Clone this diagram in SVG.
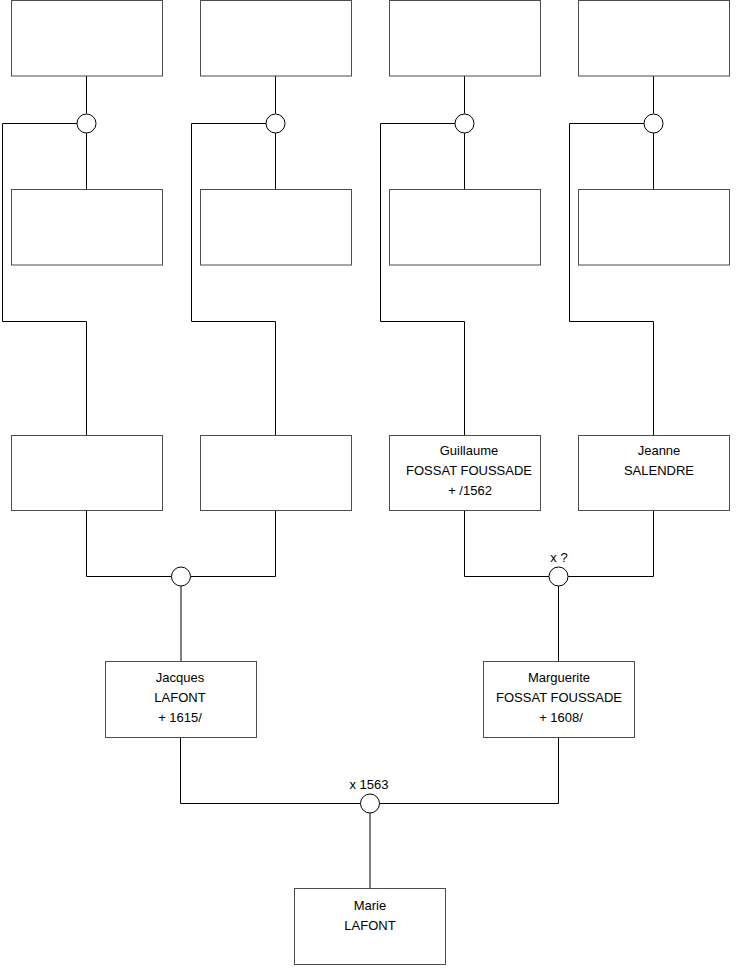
<svg xmlns="http://www.w3.org/2000/svg" width="740" height="975" viewBox="0 0 740 975">
<style>
.box{fill:#fff;stroke:#4d4d4d;stroke-width:1}
.c{fill:#fff;stroke:#000;stroke-width:1}
.ln{fill:none;stroke:#000;stroke-width:1}
text{font-family:"Liberation Sans",Arial,sans-serif;font-size:13px;fill:#000;text-anchor:middle}
</style>
<rect width="740" height="975" fill="#fff"/>
<g id="connectors">
<path class="ln" d="M86.5 76V113.5M86.5 133V189.5M77 123.5H2.5V321.5H86.5V435.5"/>
<path class="ln" d="M275.5 76V113.5M275.5 133V189.5M266 123.5H191.5V321.5H275.5V435.5"/>
<path class="ln" d="M464.5 76V113.5M464.5 133V189.5M455 123.5H380.5V321.5H464.5V435.5"/>
<path class="ln" d="M653.5 76V113.5M653.5 133V189.5M644 123.5H569.5V321.5H653.5V435.5"/>
<path class="ln" d="M86.5 510.5V576.5H171.5M190.5 576.5H275.5V510.5M181 586V661.5"/>
<path class="ln" d="M464.5 510.5V576.5H549M568 576.5H653.5V510.5M558.5 586V661.5"/>
<path class="ln" d="M180.5 737.5V803.5H360.5M379.5 803.5H558.5V737.5M370 813V888.5"/>
</g>
<g id="c1"><circle class="c" cx="86.5" cy="123.5" r="9.5"/></g>
<g id="c2"><circle class="c" cx="275.5" cy="123.5" r="9.5"/></g>
<g id="c3"><circle class="c" cx="464.5" cy="123.5" r="9.5"/></g>
<g id="c4"><circle class="c" cx="653.5" cy="123.5" r="9.5"/></g>
<g id="c5"><circle class="c" cx="181" cy="576.5" r="9.5"/></g>
<g id="c6"><circle class="c" cx="558.5" cy="576.5" r="9.5"/><text x="559" y="562">x ?</text></g>
<g id="c7"><circle class="c" cx="370" cy="803.5" r="9.5"/><text x="369" y="789">x 1563</text></g>
<g id="b1"><rect class="box" x="11.5" y="0.5" width="151" height="75.5"/></g>
<g id="b2"><rect class="box" x="200.5" y="0.5" width="151" height="75.5"/></g>
<g id="b3"><rect class="box" x="389.5" y="0.5" width="151" height="75.5"/></g>
<g id="b4"><rect class="box" x="578.5" y="0.5" width="151" height="75.5"/></g>
<g id="b5"><rect class="box" x="11.5" y="189.5" width="151" height="75.5"/></g>
<g id="b6"><rect class="box" x="200.5" y="189.5" width="151" height="75.5"/></g>
<g id="b7"><rect class="box" x="389.5" y="189.5" width="151" height="75.5"/></g>
<g id="b8"><rect class="box" x="578.5" y="189.5" width="151" height="75.5"/></g>
<g id="b9"><rect class="box" x="11.5" y="435.5" width="151" height="75"/></g>
<g id="b10"><rect class="box" x="200.5" y="435.5" width="151" height="75"/></g>
<g id="guillaume"><rect class="box" x="389.5" y="435.5" width="151" height="75"/>
<text x="469" y="455">Guillaume</text><text x="469" y="475">FOSSAT FOUSSADE</text><text x="470" y="495">+ /1562</text></g>
<g id="jeanne"><rect class="box" x="578.5" y="435.5" width="151" height="75"/>
<text x="659" y="455">Jeanne</text><text x="659" y="475">SALENDRE</text></g>
<g id="jacques"><rect class="box" x="105.5" y="661.5" width="151" height="76"/>
<text x="180" y="682">Jacques</text><text x="180" y="702">LAFONT</text><text x="180" y="722">+ 1615/</text></g>
<g id="marguerite"><rect class="box" x="483.5" y="661.5" width="151" height="76"/>
<text x="559" y="682">Marguerite</text><text x="559" y="702">FOSSAT FOUSSADE</text><text x="561" y="722">+ 1608/</text></g>
<g id="marie"><rect class="box" x="294.5" y="888.5" width="151" height="76"/>
<text x="370" y="910">Marie</text><text x="370" y="930">LAFONT</text></g>
</svg>
